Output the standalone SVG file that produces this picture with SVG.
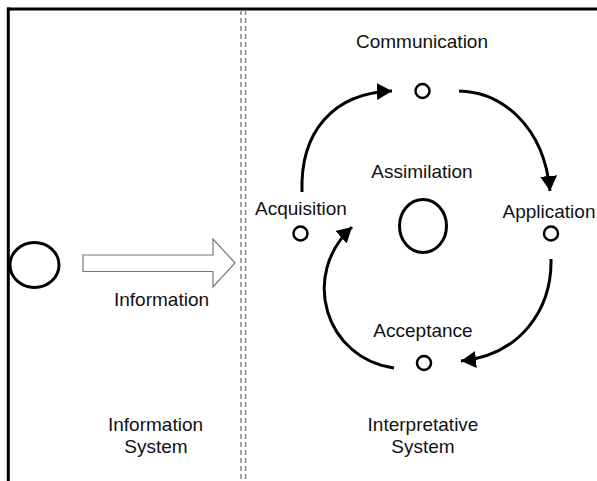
<svg xmlns="http://www.w3.org/2000/svg" width="597" height="481" viewBox="0 0 597 481">
<style>
text{font-family:"Liberation Sans",Arial,sans-serif;font-size:19px;fill:#111;text-anchor:middle}
.frame{stroke:#000;stroke-width:3;fill:none}
.sep{stroke:#888;stroke-width:1.5;stroke-dasharray:5 3;fill:none}
.node{fill:none;stroke:#000}
.conn{fill:none;stroke:#000;stroke-width:3}
</style>
<defs>
<marker id="ah" markerUnits="userSpaceOnUse" markerWidth="16" markerHeight="18" refX="15" refY="8.5" orient="auto" viewBox="0 0 16 17">
<path d="M0,0 L15,8.5 L0,17 Z" fill="#000"/>
</marker>
</defs>
<rect width="597" height="481" fill="#fff"/>
<g id="frame">
<line class="frame" x1="7" y1="9" x2="597" y2="9"/>
<line class="frame" x1="8.3" y1="7.5" x2="8.3" y2="481"/>
</g>
<g id="separator">
<line class="sep" x1="241" y1="10" x2="241" y2="481"/>
<line class="sep" x1="245.5" y1="10" x2="245.5" y2="481"/>
</g>
<g id="information-system">
<ellipse class="node" cx="34.5" cy="265" rx="24.5" ry="22.5" stroke-width="3"/>
<text x="155.5" y="431">Information</text>
<text x="156" y="453">System</text>
</g>
<g id="interpretative-system">
<text x="423" y="431">Interpretative</text>
<text x="423" y="453">System</text>
</g>
<g id="communication">
<text x="422" y="48">Communication</text>
<circle class="node" cx="422.5" cy="91" r="7" stroke-width="2.5"/>
</g>
<g id="assimilation">
<text x="422" y="178">Assimilation</text>
<ellipse class="node" cx="423" cy="226" rx="23.5" ry="26.5" stroke-width="3"/>
</g>
<g id="acquisition">
<text x="301" y="215">Acquisition</text>
<circle class="node" cx="300.5" cy="233.5" r="7" stroke-width="2.5"/>
</g>
<g id="application">
<text x="549" y="218">Application</text>
<circle class="node" cx="551" cy="233.5" r="7" stroke-width="2.5"/>
</g>
<g id="acceptance">
<text x="423" y="337">Acceptance</text>
<circle class="node" cx="424" cy="363" r="7" stroke-width="2.5"/>
</g>
<g id="connectors">
<polygon points="83,255 213,255 213,239 235,263 213,287 213,271.5 83,271.5" fill="#fff" stroke="#777" stroke-width="1.2"/>
<text x="161.5" y="306">Information</text>
<path class="conn" d="M302,192 C300,132 333,93 392,91" marker-end="url(#ah)"/>
<path class="conn" d="M459,91 C502,92 544,126 550,191" marker-end="url(#ah)"/>
<path class="conn" d="M551,259 C552,310 520,355 461,361" marker-end="url(#ah)"/>
<path class="conn" d="M394,368 C325,358 300,275 352,227" marker-end="url(#ah)"/>
</g>
</svg>
